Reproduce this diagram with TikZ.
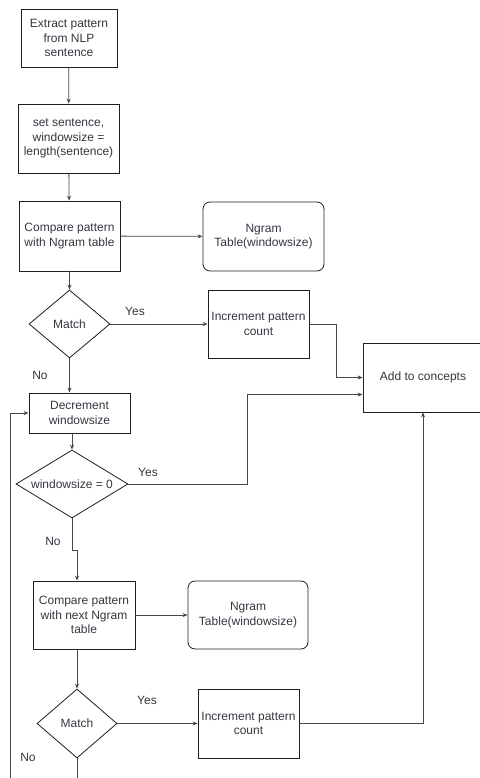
\documentclass[tikz,border=0pt]{standalone}
\usepackage{fontspec}
\setmainfont{Liberation Sans}
\usetikzlibrary{arrows.meta, positioning, shapes.geometric}
\definecolor{BoxLine}{HTML}{1E1E1E}
\definecolor{FlowGray}{HTML}{474747}
\definecolor{LabelText}{HTML}{3A3340}

\begin{document}
\begin{tikzpicture}[x=1pt, y=-1pt, line width=0.8pt, >={Stealth[length=5pt, width=4pt]},
                    font=\fontsize{12}{14.5}\selectfont,
                    flowbox/.style={draw=BoxLine, rectangle, align=center, inner sep=0pt, text=LabelText},
                    tablebox/.style={flowbox, rounded corners=7pt},
                    decision/.style={draw=BoxLine, diamond, align=center, inner sep=0pt, text=LabelText},
                    flow/.style={->, color=FlowGray},
                    answer/.style={text=LabelText}]
                    \useasboundingbox (0,0) rectangle (479,778);

                    \node[flowbox, minimum width=96pt, minimum height=58pt] (extract) at (69,38) {Extract pattern\\from NLP\\sentence};
                    \node[flowbox, minimum width=101pt, minimum height=69pt] (setsent) at (68.5,138.5) {set sentence,\\windowsize =\\length(sentence)};
                    \node[flowbox, minimum width=101pt, minimum height=70pt] (compare1) at (69.5,236) {Compare pattern\\with Ngram table};
                    \node[tablebox, minimum width=121pt, minimum height=69pt] (ngram1) at (263.5,236.5) {Ngram\\Table(windowsize)};
                    \node[decision, minimum width=81pt, minimum height=68pt] (match1) at (69.5,324) {Match};
                    \node[flowbox, minimum width=101pt, minimum height=68pt] (incr1) at (258.5,324) {Increment pattern\\count};
                    \node[flowbox, minimum width=120pt, minimum height=69pt] (concepts) at (423,377.5) {Add to concepts};
                    \node[flowbox, minimum width=101pt, minimum height=40pt] (decr) at (79.5,413) {Decrement\\windowsize};
                    \node[decision, shape aspect=1.6, minimum width=112pt, minimum height=68pt] (wzero) at (72,484) {windowsize = 0};
                    \node[flowbox, minimum width=102pt, minimum height=68pt] (compare2) at (84,615) {Compare pattern\\with next Ngram\\table};
                    \node[tablebox, minimum width=120pt, minimum height=68pt] (ngram2) at (248,615) {Ngram\\Table(windowsize)};
                    \node[decision, minimum width=80pt, minimum height=69pt] (match2) at (77,723.5) {Match};
                    \node[flowbox, minimum width=101pt, minimum height=69pt] (incr2) at (248.5,723.5) {Increment pattern\\count};

                    \node[answer] (yes1) at (135,311) {Yes};
                    \node[answer] (no1) at (40,375) {No};
                    \node[answer] (yes2) at (148,472) {Yes};
                    \node[answer] (no2) at (53,541) {No};
                    \node[answer] (yes3) at (147,700) {Yes};
                    \node[answer] (no3) at (28,757) {No};

                    \coordinate (matchout) at (77,790);
                    \coordinate (loopin) at (10,790);

                    \draw[flow] (extract) -- (setsent);
                    \draw[flow] (setsent) -- (compare1);
                    \draw[flow] (compare1) -- (ngram1);
                    \draw[flow] (compare1.south -| match1.north) -- (match1.north);
                    \draw[flow] (match1) -- (incr1);
                    \draw[flow] (incr1.east) -- ++(27,0) |- (concepts.west);
                    \draw[flow] (match1.south) -- (match1.south |- decr.north);
                    \draw[flow] (wzero.north |- decr.south) -- (wzero.north);
                    \draw[flow] (wzero.east) -- (247,484) |- ([yshift=-17pt]concepts.west);
                    \draw[flow] (wzero.south) -- ++(0,32) -| ([xshift=-7pt]compare2.north);
                    \draw[flow] (compare2) -- (ngram2);
                    \draw[flow] (match2.north |- compare2.south) -- (match2.north);
                    \draw[flow] (match2) -- (incr2);
                    \draw[flow] (incr2.east) -| (concepts.south);
                    \draw[color=FlowGray] (match2.south) -- (matchout);
                    \draw[flow] (loopin) |- (decr.west);
                \end{tikzpicture}
\end{document}
